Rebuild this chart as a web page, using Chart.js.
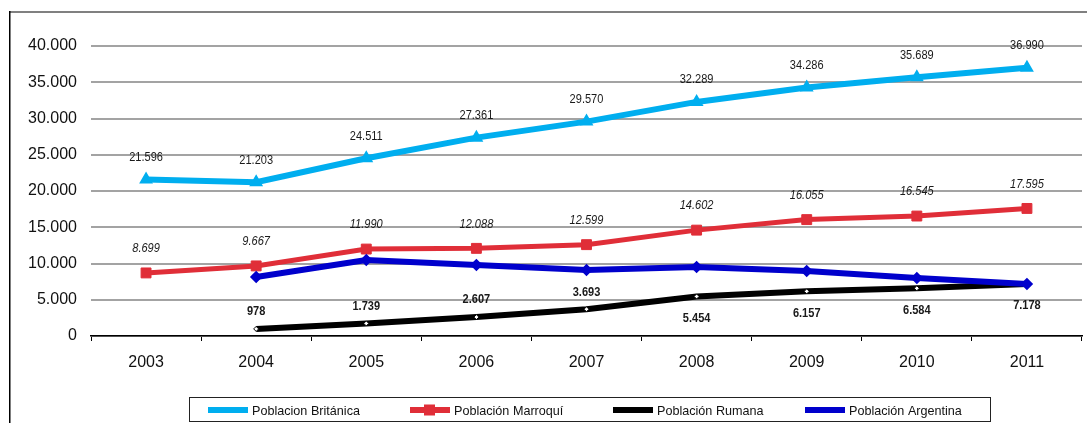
<!DOCTYPE html>
<html>
<head>
  <meta charset="utf-8">
  <title>Población extranjera</title>
  <script src="https://cdn.jsdelivr.net/npm/chart.js"></script>
  <style>
    html, body { margin: 0; padding: 0; background: #fff; }
    canvas { display: block; }
  </style>
</head>
<body>
  <canvas id="chart" width="1087" height="423"></canvas>

  <script>
    // datos
    const years = ['2003', '2004', '2005', '2006', '2007', '2008', '2009', '2010', '2011'];
    const britanica = [21596, 21203, 24511, 27361, 29570, 32289, 34286, 35689, 36990];
    const marroqui  = [8699, 9667, 11990, 12088, 12599, 14602, 16055, 16545, 17595];
    const rumana    = [null, 978, 1739, 2607, 3693, 5454, 6157, 6584, 7178];
    const argentina = [null, 8150, 10480, 9800, 9100, 9520, 8970, 8000, 7180];
    const yTicks = [0, 5000, 10000, 15000, 20000, 25000, 30000, 35000, 40000];

    const FONT = '"Liberation Sans", Arial, sans-serif';

    // 12345 -> "12.345"
    function fmt(v) {
      return String(v).replace(/\B(?=(\d{3})+(?!\d))/g, '.');
    }

    // etiquetas de datos dibujadas a mano (no hay plugin datalabels)
    const labelsPlugin = {
      id: 'valueLabels',
      afterDatasetsDraw(chart) {
        const ctx = chart.ctx;
        chart.data.datasets.forEach((ds, i) => {
          const lab = ds.valueLabels;
          if (!lab) return;
          const meta = chart.getDatasetMeta(i);
          ctx.save();
          ctx.font = lab.font;
          ctx.fillStyle = '#1a1a1a';
          ctx.textAlign = 'center';
          ctx.textBaseline = 'middle';
          meta.data.forEach((pt, j) => {
            const v = ds.data[j];
            if (v == null) return;
            const below = lab.belowFrom != null && j >= lab.belowFrom;
            const y = pt.y + (below ? lab.below : lab.above);
            ctx.save();
            ctx.translate(pt.x, y);
            ctx.scale(0.92, 1);
            ctx.fillText(fmt(v), 0, 0);
            ctx.restore();
          });
          ctx.restore();
        });
      }
    };

    // marco exterior y leyenda
    const framePlugin = {
      id: 'frame',
      beforeDraw(chart) {
        const ctx = chart.ctx;
        ctx.save();
        ctx.fillStyle = '#fff';
        ctx.fillRect(0, 0, chart.width, chart.height);
        ctx.fillStyle = '#808080';
        ctx.fillRect(9, 11, chart.width - 9, 2);
        ctx.fillStyle = '#000';
        ctx.fillRect(9, 11, 1.5, chart.height - 11);
        ctx.restore();
      },
      afterDraw(chart) {
        const ctx = chart.ctx;
        ctx.save();
        ctx.strokeStyle = '#222';
        ctx.lineWidth = 1;
        ctx.strokeRect(189.5, 397.5, 801, 24);
        const xs = [208, 410, 613, 805];
        const cy = 410;
        chart.data.datasets.forEach((ds, i) => {
          const x = xs[i];
          ctx.strokeStyle = ds.borderColor;
          ctx.lineWidth = 6;
          ctx.beginPath();
          ctx.moveTo(x, cy);
          ctx.lineTo(x + 40, cy);
          ctx.stroke();
          if (ds.pointStyle === 'rect') {
            ctx.fillStyle = ds.borderColor;
            ctx.fillRect(x + 14, cy - 5.5, 11, 11);
          }
          ctx.fillStyle = '#111';
          ctx.font = '13px ' + FONT;
          ctx.textBaseline = 'middle';
          ctx.textAlign = 'left';
          ctx.save();
          ctx.translate(x + 44, cy + 1);
          ctx.scale(0.97, 1);
          ctx.fillText(ds.label, 0, 0);
          ctx.restore();
        });
        ctx.restore();
      }
    };

    new Chart(document.getElementById('chart'), {
      type: 'line',
      data: {
        labels: years,
        datasets: [
          {
            label: 'Poblacion Británica',
            data: britanica,
            borderColor: 'rgb(0,174,239)',
            backgroundColor: 'rgb(0,174,239)',
            borderWidth: 6,
            pointStyle: 'triangle',
            pointRadius: 2,
            order: 3,
            valueLabels: { font: '12px ' + FONT, above: -22 }
          },
          {
            label: 'Población Marroquí',
            data: marroqui,
            borderColor: 'rgb(224,46,56)',
            backgroundColor: 'rgb(224,46,56)',
            borderWidth: 5,
            pointStyle: 'rect',
            pointRadius: 7,
            pointBorderWidth: 1,
            order: 2,
            valueLabels: { font: 'italic 12px ' + FONT, above: -24 }
          },
          {
            label: 'Población Rumana',
            data: rumana,
            borderColor: '#000',
            backgroundColor: '#fff',
            borderWidth: 6,
            pointStyle: 'rectRot',
            pointRadius: 2.5,
            pointBorderWidth: 1,
            order: 1,
            valueLabels: { font: 'bold 12px ' + FONT, above: -17, below: 22, belowFrom: 5 }
          },
          {
            label: 'Población Argentina',
            data: argentina,
            borderColor: 'rgb(0,0,204)',
            backgroundColor: 'rgb(0,0,204)',
            borderWidth: 6,
            pointStyle: 'rectRot',
            pointRadius: 2,
            order: 0
          }
        ]
      },
      options: {
        responsive: false,
        animation: false,
        devicePixelRatio: 1,
        layout: { autoPadding: false, padding: { left: 10, top: 46, right: 5, bottom: 0 } },
        plugins: {
          legend: { display: false },
          tooltip: { enabled: false }
        },
        elements: { line: { tension: 0 } },
        scales: {
          x: {
            offset: true,
            grid: { offset: true, drawOnChartArea: false, color: '#000', tickLength: 5, lineWidth: 1 },
            border: { display: true, color: '#000', width: 1.5 },
            ticks: { color: '#111', font: { family: FONT, size: 16 }, padding: 12 },
            afterFit(scale) {
              scale.height = 87;
              scale.paddingLeft = 0;
              scale.paddingRight = 0;
            }
          },
          y: {
            min: 0,
            max: 40000,
            afterBuildTicks(scale) { scale.ticks = yTicks.map(v => ({ value: v })); },
            grid: { color: '#a3a3a3', lineWidth: 2, drawTicks: false },
            border: { display: false },
            ticks: {
              color: '#111',
              font: { family: FONT, size: 16 },
              padding: 14,
              callback: v => fmt(v)
            },
            afterFit(scale) { scale.width = 81; }
          }
        }
      },
      plugins: [framePlugin, labelsPlugin]
    });
  </script>
</body>
</html>
